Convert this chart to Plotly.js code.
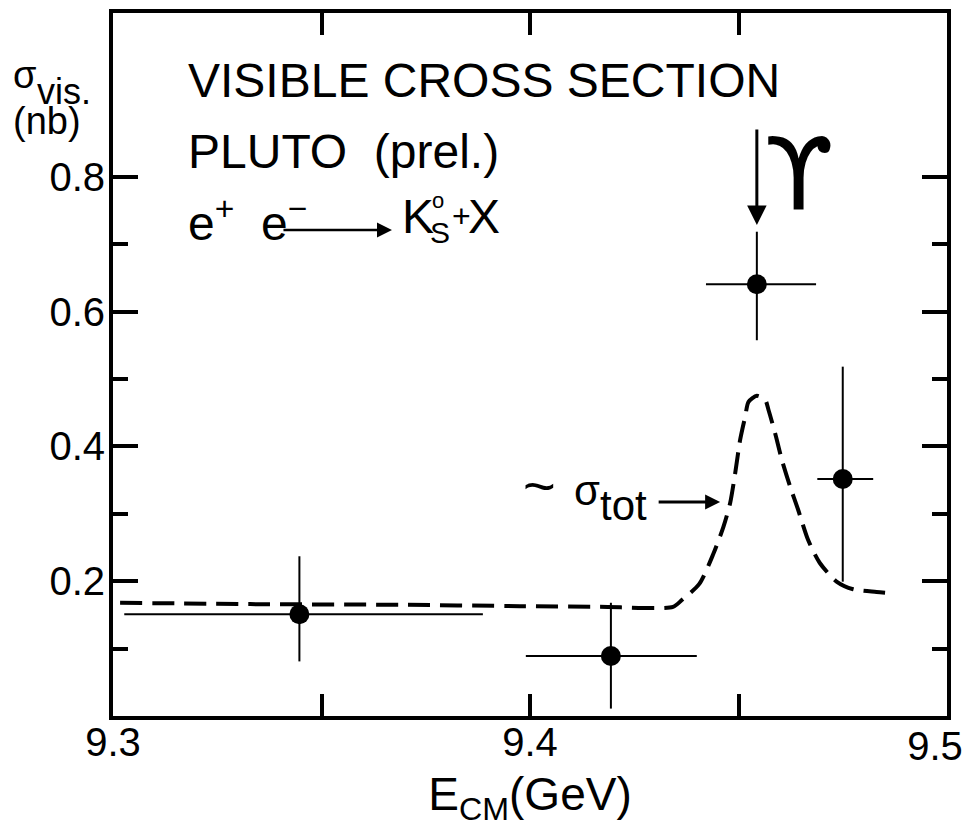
<!DOCTYPE html>
<html>
<head>
<meta charset="utf-8">
<script src="https://cdn.plot.ly/plotly-3.0.1.min.js"></script>
<style>html,body{margin:0;padding:0;background:#fff;}#chart{width:967px;height:827px;}</style>
</head>
<body>
<div id="chart"></div>
<script>
// Measured points (E_CM in GeV, visible cross section in nb)
const pointE      = [9.3447, 9.4194, 9.4544, 9.4750];
const pointSigma  = [0.151, 0.089, 0.6405, 0.3516];
const errEMinus   = [0.042, 0.0204, 0.0122, 0.0061];
const errEPlus    = [0.044, 0.0206, 0.0142, 0.0073];
const errSigUp    = [0.086, 0.079, 0.078, 0.1667];
const errSigDown  = [0.070, 0.078, 0.083, 0.1523];

// ~ sigma_tot curve (dashed)
const curveE = [9.3017, 9.3329, 9.3688, 9.3976, 9.4168, 9.4343, 9.4364, 9.4406, 9.4440, 9.4464,
                9.4480, 9.4492, 9.4504, 9.4516, 9.4524, 9.4544, 9.4564, 9.4572, 9.4588, 9.4604,
                9.4624, 9.4643, 9.4667, 9.4695, 9.4736, 9.4775, 9.4831, 9.4867];
const curveSigma = [0.168, 0.166, 0.165, 0.163, 0.162, 0.162, 0.172, 0.196, 0.241, 0.281,
                    0.316, 0.360, 0.410, 0.444, 0.466, 0.475, 0.469, 0.454, 0.419, 0.380,
                    0.340, 0.306, 0.261, 0.227, 0.199, 0.188, 0.184, 0.182];

// Axis ticks
const xTickVals = [9.3, 9.35, 9.4, 9.45, 9.5];
const xTickText = ['9.3', '', '9.4', '', ''];
const xEndTickVals = [9.5];
const xEndTickText = ['9.5'];
const yTickVals = [0.2, 0.4, 0.6, 0.8];
const yTickText = ['0.2', '0.4', '0.6', '0.8'];
const yMinorVals = [0.1, 0.3, 0.5, 0.7];

const FONT = 'Liberation Sans, Arial, sans-serif';

const traces = [
  {
    x: curveE, y: curveSigma, type: 'scatter', mode: 'lines',
    line: {color: 'black', width: 4, dash: '22px,10px', shape: 'spline', smoothing: 0.7},
    hoverinfo: 'skip'
  },
  {
    x: pointE, y: pointSigma, type: 'scatter', mode: 'markers',
    marker: {color: 'black', size: 20},
    error_x: {type: 'data', symmetric: false, array: errEPlus, arrayminus: errEMinus,
              color: 'black', thickness: 2, width: 0},
    error_y: {type: 'data', symmetric: false, array: errSigUp, arrayminus: errSigDown,
              color: 'black', thickness: 2, width: 0}
  },
  {
    x: [], y: [], type: 'scatter', mode: 'markers', xaxis: 'x2', yaxis: 'y',
    showlegend: false, hoverinfo: 'skip'
  }
];

function txt(text, x, y, size, opts) {
  return Object.assign({
    text: text, x: x, y: y, xref: 'x', yref: 'y',
    xanchor: 'left', yanchor: 'bottom', showarrow: false,
    font: {family: FONT, size: size, color: 'black'}
  }, opts || {});
}
function arrow(x, y, ax, ay, w, size) {
  return {
    text: '', x: x, y: y, xref: 'x', yref: 'y', ax: ax, ay: ay,
    showarrow: true, arrowhead: 2, arrowwidth: w, arrowsize: size,
    arrowcolor: 'black', standoff: 0, startstandoff: 0
  };
}

const annotations = [
  txt('VISIBLE CROSS SECTION', 9.3175, 0.9006, 48),
  txt('PLUTO\u00a0\u00a0(prel.)', 9.3175, 0.7953, 48),
  txt('e<sup>+</sup>\u00a0\u00a0e<sup>\u2212</sup>', 9.3175, 0.6884, 48),
  arrow(9.3669, 0.7211, -110, 0, 2.5, 1.2),
  txt('K', 9.3688, 0.6988, 48),
  txt('S', 9.3755, 0.6900, 30),
  txt('o', 9.3760, 0.7433, 22),
  txt('+', 9.3808, 0.7122, 32),
  txt('X', 9.3847, 0.6988, 48),
  txt('\u03d2', 9.4645, 0.7122, 100, {xanchor: 'center',
      font: {family: 'DejaVu Sans', size: 100, color: 'black'}}),
  arrow(9.4544, 0.7285, 0, -97, 3, 1.3),
  txt('~', 9.3978, 0.2920, 56),
  txt('\u03c3', 9.4100, 0.2967, 42),
  txt('tot', 9.4163, 0.2745, 42),
  arrow(9.4456, 0.3175, -63, 0, 3, 1.0),
  // y-axis title pieces
  txt('\u03c3', -0.1223, 0.8791, 38, {xref: 'paper', yref: 'paper'}),
  txt('vis.', -0.0935, 0.8563, 36, {xref: 'paper', yref: 'paper'}),
  txt('(nb)', -0.1223, 0.8137, 38, {xref: 'paper', yref: 'paper'})
];

const layout = {
  width: 967, height: 827,
  margin: {l: 113, r: 20, t: 13, b: 111},
  paper_bgcolor: 'white', plot_bgcolor: 'white',
  showlegend: false,
  font: {family: FONT, color: 'black'},
  xaxis: {
    range: [9.3, 9.5], tickmode: 'array', tickvals: xTickVals, ticktext: xTickText,
    ticks: 'inside', ticklen: 22, tickwidth: 4, tickcolor: 'black',
    showline: true, linewidth: 4, linecolor: 'black', mirror: 'ticks',
    showgrid: false, zeroline: false,
    tickfont: {family: FONT, size: 40, color: 'black'}, ticklabelstandoff: -12,
    title: {text: 'E<sub>CM</sub>(GeV)', font: {family: FONT, size: 46, color: 'black'}, standoff: 22}
  },
  xaxis2: {
    overlaying: 'x', matches: 'x', anchor: 'y', side: 'bottom',
    tickmode: 'array', tickvals: xEndTickVals, ticktext: xEndTickText,
    ticks: '', showline: false, showgrid: false, zeroline: false,
    ticklabelshift: -12, ticklabelstandoff: 3, ticklabeloverflow: 'allow',
    tickfont: {family: FONT, size: 40, color: 'black'}
  },
  yaxis: {
    range: [0, 1.043], tickmode: 'array', tickvals: yTickVals, ticktext: yTickText,
    ticks: 'inside', ticklen: 25, tickwidth: 4, tickcolor: 'black',
    minor: {tickvals: yMinorVals, ticks: 'inside', ticklen: 15, tickwidth: 4, tickcolor: 'black', showgrid: false},
    showline: true, linewidth: 4, linecolor: 'black', mirror: 'ticks',
    showgrid: false, zeroline: false,
    tickfont: {family: FONT, size: 40, color: 'black'}, ticklabelstandoff: -4
  },
  annotations: annotations
};

Plotly.newPlot('chart', traces, layout, {displayModeBar: false, staticPlot: true});
</script>
</body>
</html>
